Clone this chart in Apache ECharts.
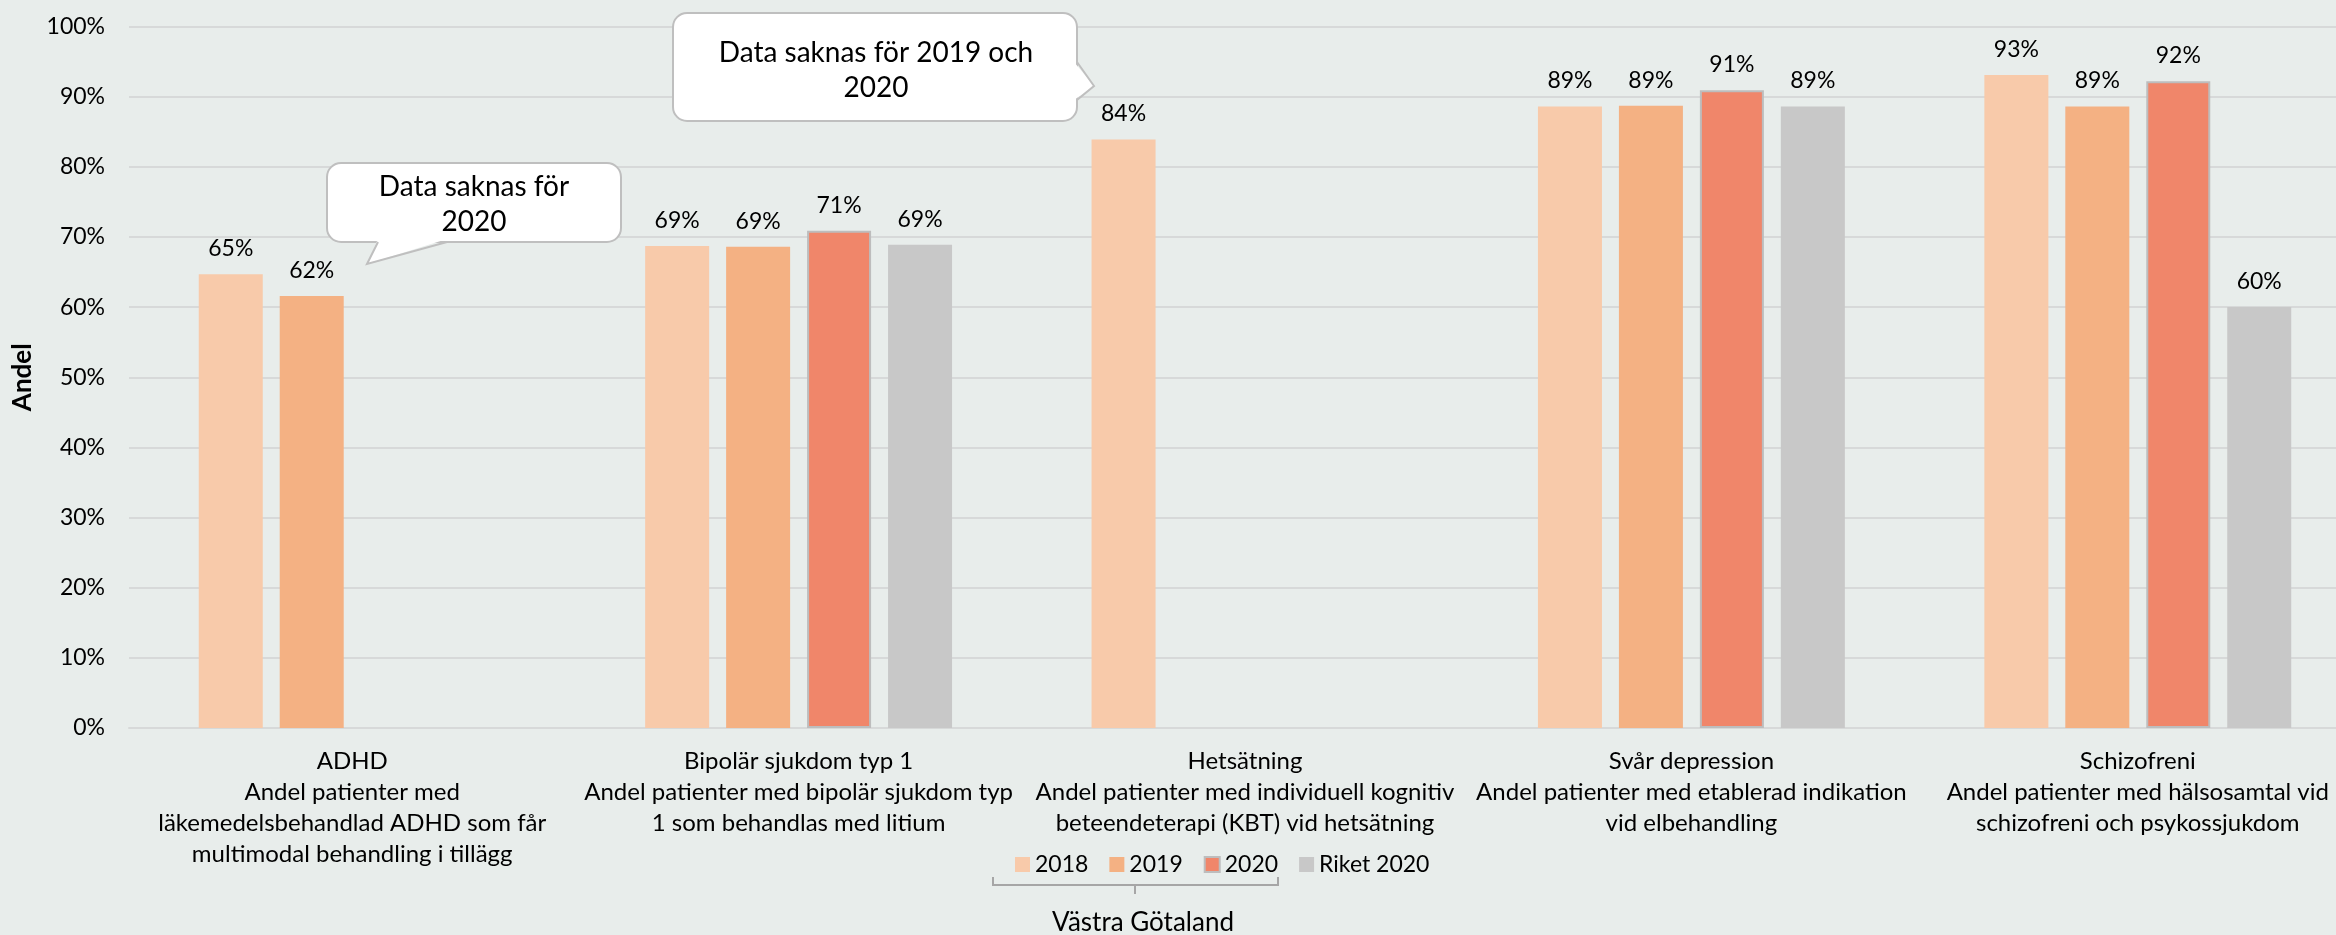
<!DOCTYPE html>
<html>
<head>
<meta charset="utf-8">
<script src="https://cdn.jsdelivr.net/npm/echarts@6/dist/echarts.min.js"></script>
<style>
  html, body { margin: 0; padding: 0; background: #E8EDEB; }
  #chart { width: 2336px; height: 935px; }
</style>
</head>
<body>
<div id="chart"></div>
<script>
// kategorier och beskrivningar
const categories = ['ADHD', 'Bipolär sjukdom typ 1', 'Hetsätning', 'Svår depression', 'Schizofreni']
const descriptions = [
  'Andel patienter med\nläkemedelsbehandlad ADHD som får\nmultimodal behandling i tillägg',
  'Andel patienter med bipolär sjukdom typ\n1 som behandlas med litium',
  'Andel patienter med individuell kognitiv\nbeteendeterapi (KBT) vid hetsätning',
  'Andel patienter med etablerad indikation\nvid elbehandling',
  'Andel patienter med hälsosamtal vid\nschizofreni och psykossjukdom'
]
const seriesNames = ['2018', '2019', '2020', 'Riket 2020']
// värden i procent, null = data saknas
const vg2018 = [64.7, 68.7, 83.9, 88.6, 93.1]
const vg2019 = [61.6, 68.6, null, 88.7, 88.6]
const vg2020 = [null, 70.9, null, 90.9, 92.2]
const riket2020 = [null, 68.9, null, 88.6, 60.0]
const yTicks = [0, 10, 20, 30, 40, 50, 60, 70, 80, 90, 100]

const FONT = 'Lato, "Open Sans", sans-serif'
const colors = ['#F8CAAA', '#F4B183', '#F0866A', '#C8C8C8']
const BUBBLE_LINE = '#BFBFBF'

const chart = echarts.init(document.getElementById('chart'))

const labelCfg = {
  show: true,
  position: 'top',
  distance: 14,
  color: '#000',
  fontFamily: FONT,
  fontSize: 23,
  formatter: p => Math.round(p.value) + '%'
}

function bar(name, data, idx, extra) {
  return Object.assign({
    name: name,
    type: 'bar',
    data: data,
    barWidth: 64,
    barGap: '26.5%',
    itemStyle: { color: colors[idx] },
    label: labelCfg
  }, extra || {})
}

// pratbubbla: rundad ruta + spets
function bubble(box, tail, text, center) {
  return [
    {
      type: 'rect', z: 100,
      shape: { x: box[0], y: box[1], width: box[2], height: box[3], r: 14 },
      style: { fill: '#fff', stroke: BUBBLE_LINE, lineWidth: 2 }
    },
    {
      type: 'polygon', z: 101,
      shape: { points: tail.fill },
      style: { fill: '#fff' }
    },
    {
      type: 'polyline', z: 102,
      shape: { points: tail.line },
      style: { fill: null, stroke: BUBBLE_LINE, lineWidth: 2 }
    },
    {
      type: 'text', z: 103, x: center[0], y: center[1],
      style: { text: text, fill: '#000', fontFamily: FONT, fontSize: 28, lineHeight: 35, align: 'center', verticalAlign: 'middle' }
    }
  ]
}

const graphics = [].concat(
  bubble([327, 163, 294, 79],
    { fill: [[378, 239], [367, 264], [447, 239]], line: [[378, 242], [367, 264], [447, 242]] },
    'Data saknas för\n2020', [474, 204.5]),
  bubble([673, 13, 404, 108],
    { fill: [[1074, 62], [1094, 86], [1074, 100]], line: [[1077, 62], [1094, 86], [1077, 100]] },
    'Data saknas för 2019 och\n2020', [876, 70.5]),
  [
    // klammer under legenden
    {
      type: 'polyline', z: 100,
      shape: { points: [[993, 877], [993, 885], [1278, 885], [1278, 877]] },
      style: { fill: null, stroke: '#A6A6A6', lineWidth: 2 }
    },
    {
      type: 'line', z: 100,
      shape: { x1: 1135, y1: 885, x2: 1135, y2: 894 },
      style: { stroke: '#A6A6A6', lineWidth: 2 }
    },
    {
      type: 'text', z: 101, x: 1143, y: 923,
      style: { text: 'Västra Götaland', fill: '#000', fontFamily: FONT, fontSize: 26, align: 'center', verticalAlign: 'middle' }
    }
  ]
)

chart.setOption({
  backgroundColor: '#E8EDEB',
  animation: false,
  grid: { left: 129, width: 2232, top: 26.5, bottom: 207, containLabel: false, outerBoundsMode: 'none' },
  legend: {
    data: seriesNames,
    left: 1010,
    top: 848,
    itemWidth: 15,
    itemHeight: 15,
    itemGap: 21,
    icon: 'rect',
    textStyle: { color: '#000', fontFamily: FONT, fontSize: 23 }
  },
  xAxis: {
    type: 'category',
    data: categories.map((c, i) => c + '\n' + descriptions[i]),
    axisLine: { lineStyle: { color: '#D7D9D9', width: 2 } },
    axisTick: { show: false },
    axisLabel: {
      interval: 0,
      margin: 18,
      color: '#000',
      fontFamily: FONT,
      fontSize: 24,
      lineHeight: 31,
      align: 'center'
    }
  },
  yAxis: {
    type: 'value',
    min: yTicks[0],
    max: yTicks[yTicks.length - 1],
    interval: 10,
    name: 'Andel',
    nameLocation: 'middle',
    nameRotate: 90,
    nameGap: 92,
    nameTextStyle: { color: '#000', fontFamily: FONT, fontSize: 26, fontWeight: 'bold' },
    axisLine: { show: false },
    axisTick: { show: false },
    axisLabel: { formatter: '{value}%', margin: 24, color: '#000', fontFamily: FONT, fontSize: 23 },
    splitLine: { lineStyle: { color: '#D7D9D9', width: 2 } }
  },
  series: [
    bar(seriesNames[0], vg2018, 0),
    bar(seriesNames[1], vg2019, 1),
    bar(seriesNames[2], vg2020, 2, { itemStyle: { color: colors[2], borderColor: '#BDBDBD', borderWidth: 2 } }),
    bar(seriesNames[3], riket2020, 3)
  ],
  graphic: graphics
})
</script>
</body>
</html>
